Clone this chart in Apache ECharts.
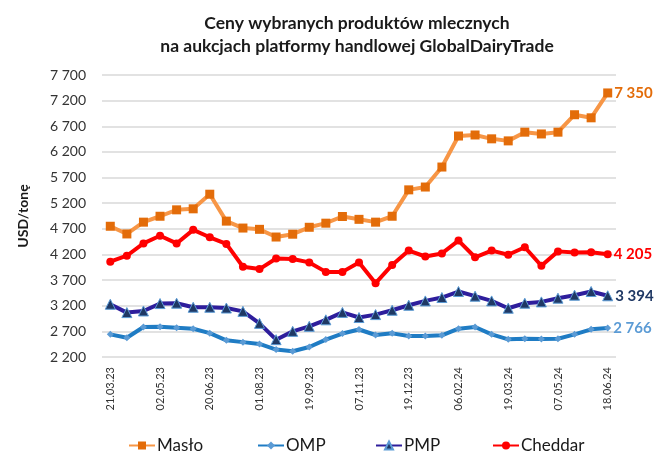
<!DOCTYPE html>
<html>
<head>
<meta charset="utf-8">
<script src="https://cdn.jsdelivr.net/npm/echarts@6/dist/echarts.min.js"></script>
<style>
html,body{margin:0;padding:0;background:#fff;}
#main{width:654px;height:453px;}
</style>
</head>
<body>
<div id="main"></div>
<script>
// daty aukcji GDT
let dates = ['21.03.23','04.04.23','18.04.23','02.05.23','16.05.23','06.06.23','20.06.23','04.07.23','18.07.23','01.08.23','15.08.23',
    '05.09.23','19.09.23','03.10.23','17.10.23','07.11.23','21.11.23','05.12.23','19.12.23','02.01.24','16.01.24',
    '06.02.24','20.02.24','05.03.24','19.03.24','02.04.24','16.04.24','07.05.24','21.05.24','04.06.24','18.06.24'];

let maslo = [4750,4600,4830,4945,5070,5090,5375,4850,4715,4690,4540,4595,4730,4810,4940,4885,4830,4945,5460,5515,5905,
    6510,6530,6455,6415,6585,6550,6585,6925,6865,7350];
let omp = [2642,2576,2785,2791,2772,2750,2665,2525,2490,2455,2345,2311,2395,2540,2658,2736,2629,2661,2609,2609,2622,
    2753,2785,2642,2544,2557,2550,2557,2642,2740,2766];
let pmp = [3229,3066,3098,3242,3249,3170,3170,3155,3090,2856,2538,2700,2798,2925,3070,2970,3027,3112,3209,3294,3360,
    3477,3386,3294,3151,3249,3275,3347,3405,3477,3394];
let cheddar = [4060,4175,4415,4565,4415,4680,4535,4405,3960,3915,4120,4110,4045,3860,3860,4045,3640,3995,4275,4160,4220,
    4470,4145,4275,4195,4340,3980,4260,4240,4245,4205];

let seriesNames = ['Masło','OMP','PMP','Cheddar'];
let yTicks = {min:2200, max:7700, step:500};

let FONT = 'Lato, "Open Sans", sans-serif';

function fmt(v){
    return String(v).replace(/\B(?=(\d{3})+(?!\d))/g,' ');
}

// etykieta tylko przy ostatnim punkcie
function endLabel(data, color){
    return data.map(function(v,i){
        if(i === data.length-1){
            return {value:v, label:{show:true, position:'right', distance:2, color:color,
                fontSize:15, fontWeight:'bold', fontFamily:FONT, formatter:function(p){return fmt(p.value);}}};
        }
        return v;
    });
}

// legenda w stałych kolumnach jak w Excelu
let legendLeft = [123,252,370,487];
let legends = seriesNames.map(function(n,i){
    return {
        top:432, left:legendLeft[i],
        itemWidth:26, itemHeight:10,
        textStyle:{fontSize:17, color:'#1a1a1a', fontFamily:FONT, padding:[0,0,0,-3]},
        data:[n]
    };
});

let myChart = echarts.init(document.getElementById('main'));

let option = {
    animation:false,
    textStyle:{fontFamily:FONT},
    title:{
        text:'Ceny wybranych produktów mlecznych\nna aukcjach platformy handlowej GlobalDairyTrade',
        left:352, top:7, textAlign:'center',
        textStyle:{fontSize:17.5, fontWeight:'bold', color:'#1a1a1a', lineHeight:23, fontFamily:FONT}
    },
    legend:legends,
    grid:{left:102, right:38, top:75, bottom:96},
    xAxis:{
        type:'category',
        data:dates,
        boundaryGap:true,
        axisLine:{show:false},
        axisTick:{show:false},
        axisLabel:{interval:2, rotate:90, fontSize:11, color:'#333', margin:10, fontFamily:FONT}
    },
    yAxis:{
        type:'value',
        min:yTicks.min, max:yTicks.max, interval:yTicks.step,
        name:'USD/tonę', nameLocation:'middle', nameGap:72, nameRotate:90,
        nameTextStyle:{fontSize:14, fontWeight:'bold', color:'#1a1a1a', fontFamily:FONT},
        axisLine:{show:false},
        axisTick:{show:false},
        axisLabel:{fontSize:14, color:'#333', margin:16, formatter:function(v){return fmt(v);}},
        splitLine:{lineStyle:{color:'#d9d9d9', width:1.5}}
    },
    series:[
        {
            name:seriesNames[0], type:'line', data:endLabel(maslo,'#e36c09'),
            symbol:'rect', symbolSize:9,
            lineStyle:{width:4, color:'#f79646'},
            itemStyle:{color:'#e36c09'}
        },
        {
            name:seriesNames[1], type:'line', data:endLabel(omp,'#5b9bd5'),
            symbol:'diamond', symbolSize:7,
            lineStyle:{width:4, color:'#1f7cc4'},
            itemStyle:{color:'#5b9bd5'}
        },
        {
            name:seriesNames[2], type:'line', data:endLabel(pmp,'#1f3864'),
            symbol:'triangle', symbolSize:10,
            lineStyle:{width:4, color:'#2e1e9c'},
            itemStyle:{color:'#1f3864', borderColor:'#5b9bd5', borderWidth:1}
        },
        {
            name:seriesNames[3], type:'line', data:endLabel(cheddar,'#ff0000'),
            symbol:'circle', symbolSize:8,
            lineStyle:{width:4, color:'#ff0000'},
            itemStyle:{color:'#ff0000'}
        }
    ]
};

myChart.setOption(option);

window.onresize = function(){
    myChart.resize();
};
</script>
</body>
</html>
